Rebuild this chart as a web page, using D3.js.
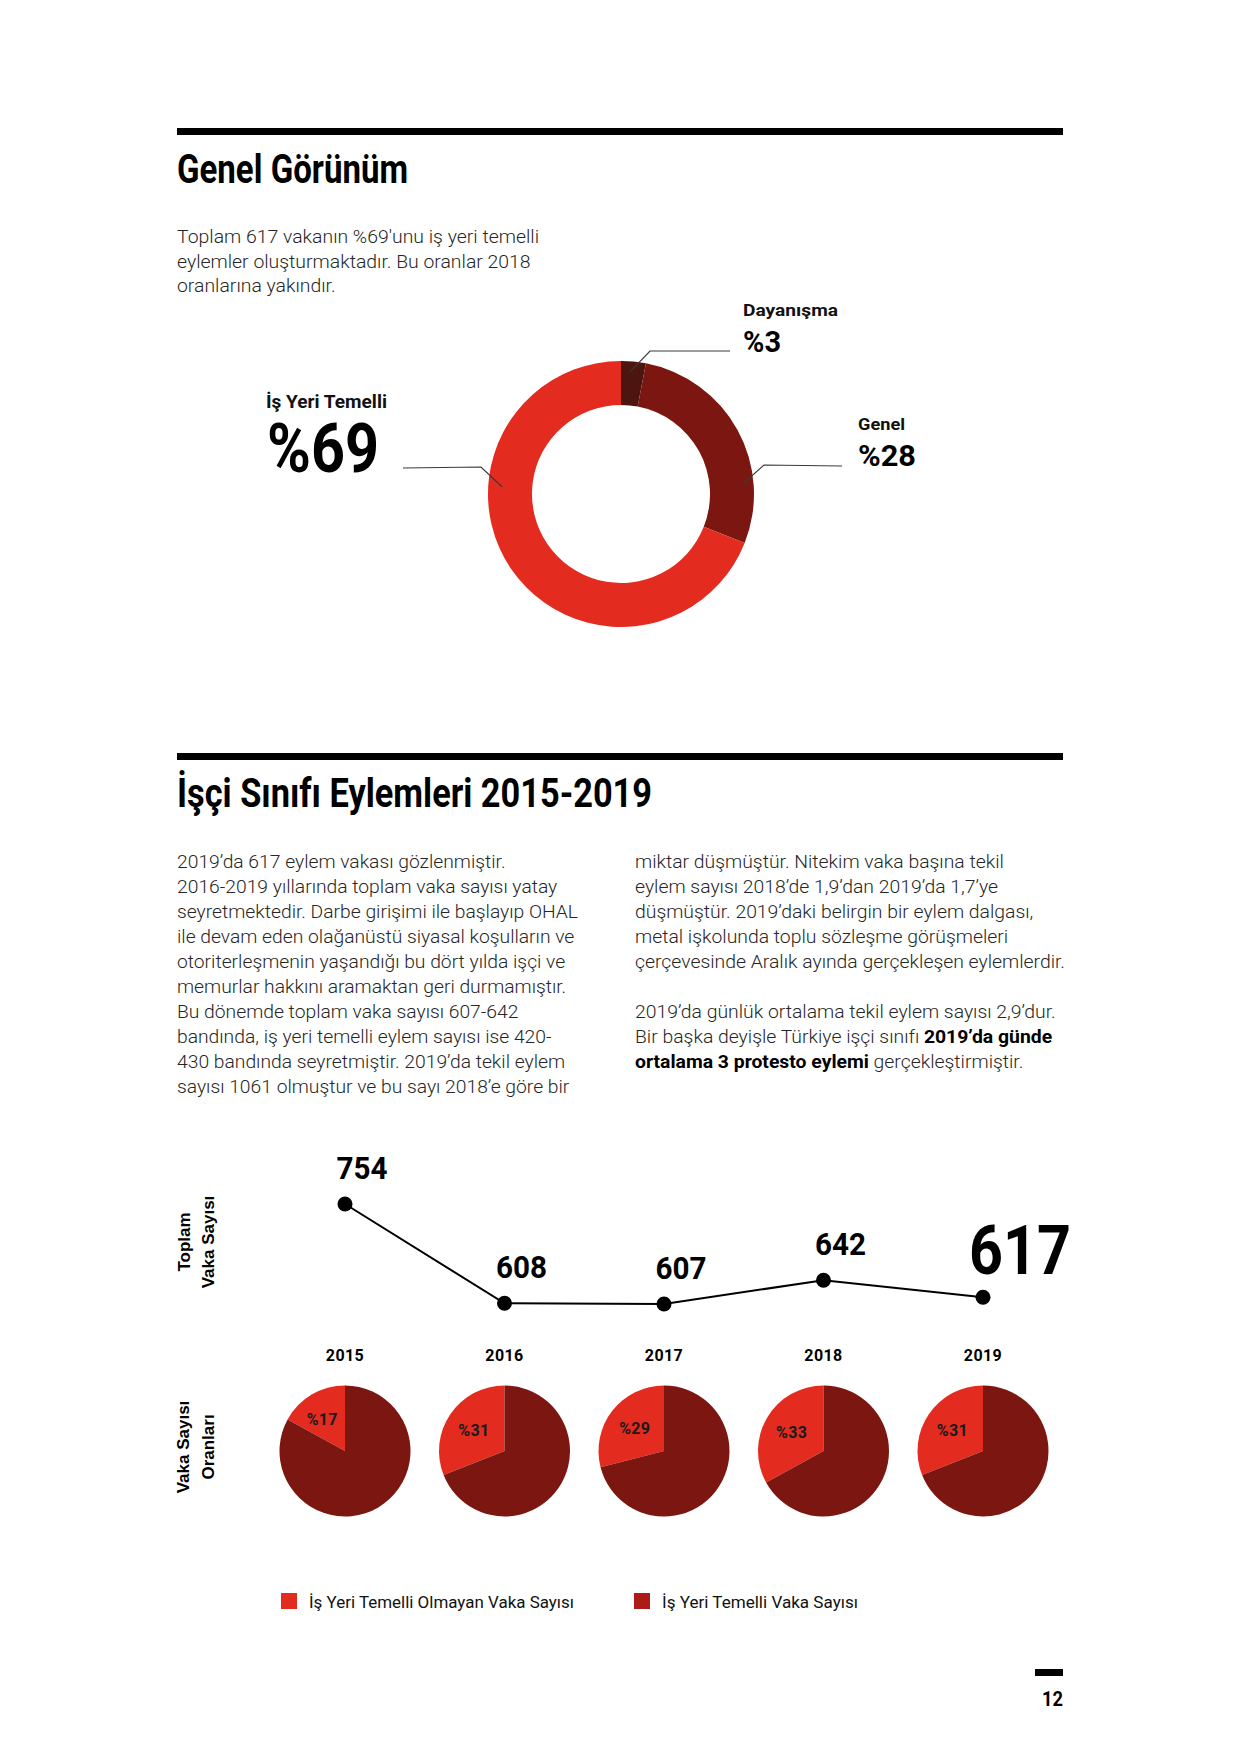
<!DOCTYPE html>
<html><head><meta charset="utf-8">
<script src="https://cdn.jsdelivr.net/npm/d3@7"></script>
<style>
body{margin:0;background:#fff}
svg{display:block}
text{font-family:Roboto,"Noto Sans",sans-serif}
</style>
</head><body>
<svg id="c" width="1240" height="1754"></svg>
<script>
// ---------- DATA ----------
const shareCategories = ["Dayanışma", "Genel", "İş Yeri Temelli"];
const shareValues = [3, 28, 69];
const years = ["2015", "2016", "2017", "2018", "2019"];
const totalCases = [754, 608, 607, 642, 617];
const nonWorkplacePct = [17, 31, 29, 33, 31];
const legendLabels = ["İş Yeri Temelli Olmayan Vaka Sayısı", "İş Yeri Temelli Vaka Sayısı"];

const introLines = [
  "Toplam 617 vakanın %69'unu iş yeri temelli",
  "eylemler oluşturmaktadır. Bu oranlar 2018",
  "oranlarına yakındır."
];
const leftCol = [
  "2019’da 617 eylem vakası gözlenmiştir.",
  "2016-2019 yıllarında toplam vaka sayısı yatay",
  "seyretmektedir. Darbe girişimi ile başlayıp OHAL",
  "ile devam eden olağanüstü siyasal koşulların ve",
  "otoriterleşmenin yaşandığı bu dört yılda işçi ve",
  "memurlar hakkını aramaktan geri durmamıştır.",
  "Bu dönemde toplam vaka sayısı 607-642",
  "bandında, iş yeri temelli eylem sayısı ise 420-",
  "430 bandında seyretmiştir. 2019’da tekil eylem",
  "sayısı 1061 olmuştur ve bu sayı 2018’e göre bir"
];
const rightCol = [
  [["miktar düşmüştür. Nitekim vaka başına tekil", 0]],
  [["eylem sayısı 2018’de 1,9’dan 2019’da 1,7’ye", 0]],
  [["düşmüştür. 2019’daki belirgin bir eylem dalgası,", 0]],
  [["metal işkolunda toplu sözleşme görüşmeleri", 0]],
  [["çerçevesinde Aralık ayında gerçekleşen eylemlerdir.", 0]],
  [],
  [["2019’da günlük ortalama tekil eylem sayısı 2,9’dur.", 0]],
  [["Bir başka deyişle Türkiye işçi sınıfı ", 0], ["2019’da günde", 1]],
  [["ortalama 3 protesto eylemi", 1], [" gerçekleştirmiştir.", 0]]
];

// ---------- COLORS ----------
const RED = "#E32B20", DARK = "#7B1710", DARKEST = "#4D1510", LEG2 = "#AE1A19";

const svg = d3.select("#c");
svg.append("rect").attr("width", 1240).attr("height", 1754).attr("fill", "#fff");

function fit(sel, w) { sel.attr("textLength", w).attr("lengthAdjust", "spacingAndGlyphs"); return sel; }

// ---------- SECTION 1 ----------
svg.append("rect").attr("x", 177).attr("y", 128).attr("width", 886).attr("height", 7).attr("fill", "#000");
fit(svg.append("text").attr("x", 177).attr("y", 183).attr("font-size", 40).attr("font-weight", 700)
  .attr("fill", "#000").text("Genel Görünüm"), 231);

function bodyBlock(lines, x, y0, lh, refIdx, refW) {
  const g = svg.append("g");
  const ts = lines.map((segs, i) => {
    const t = g.append("text").attr("x", x).attr("y", y0 + i * lh).attr("font-size", 17.5)
      .attr("font-weight", 300).attr("fill", "#262626");
    const arr = typeof segs === "string" ? [[segs, 0]] : segs;
    arr.forEach(s => t.append("tspan").attr("font-weight", s[1] ? 700 : 300).attr("fill", s[1] ? "#000" : null).text(s[0]));
    return t;
  });
  const k = refW / ts[refIdx].node().getComputedTextLength();
  ts.forEach(t => { const n = t.node(); if (n.textContent.length) { const w = n.getComputedTextLength(); fit(t, w * k); } });
}
bodyBlock(introLines, 177, 243, 24.6, 0, 362);

// donut
const cx = 621, cy = 494, R = 133, r0 = 89;
const pie = d3.pie().sort(null).value(d => d);
const arc = d3.arc().innerRadius(r0).outerRadius(R);
const donutColors = [DARKEST, DARK, RED];
svg.append("g").attr("transform", `translate(${cx},${cy})`)
  .selectAll("path").data(pie(shareValues)).join("path")
  .attr("d", arc).attr("fill", (d, i) => donutColors[i]);

// leader lines & labels (layout annotations)
const leaders = [
  { ang: 4, rad: 122, elbow: [650, 351], end: [730, 351], lx: 743, ly: 316, lw: 95, vy: 352, vw: 38, big: 30, small: 17 },
  { ang: 85, rad: 123, elbow: [764, 465], end: [842, 466], lx: 858, ly: 430, lw: 47, vy: 466, vw: 58, big: 30, small: 17 },
  { ang: 273.4, rad: 119, elbow: [481, 467], end: [403, 468], lx: 266, ly: 408, lw: 121, vy: 472, vw: 112, big: 68, small: 18 }
];
leaders.forEach((L, i) => {
  const a = L.ang * Math.PI / 180;
  const sx = cx + L.rad * Math.sin(a), sy = cy - L.rad * Math.cos(a);
  svg.append("path").attr("d", d3.line()([[sx, sy], L.elbow, L.end]))
    .attr("fill", "none").attr("stroke", "#3a3a3a").attr("stroke-width", 1.2);
  fit(svg.append("text").attr("x", L.lx).attr("y", L.ly).attr("font-size", L.small).attr("font-weight", 700)
    .attr("fill", "#111").text(shareCategories[i]), L.lw);
  fit(svg.append("text").attr("x", L.lx + (i === 2 ? 1 : 0)).attr("y", L.vy).attr("font-size", L.big).attr("font-weight", 700)
    .attr("fill", "#000").text("%" + shareValues[i]), L.vw);
});

// ---------- SECTION 2 ----------
svg.append("rect").attr("x", 177).attr("y", 753).attr("width", 886).attr("height", 7).attr("fill", "#000");
fit(svg.append("text").attr("x", 177).attr("y", 807).attr("font-size", 40).attr("font-weight", 700)
  .attr("fill", "#000").text("İşçi Sınıfı Eylemleri 2015-2019"), 475);

bodyBlock(leftCol, 177, 868, 25, 2, 401);
bodyBlock(rightCol, 635, 868, 25, 4, 430);

// line chart
const x = d3.scalePoint().domain(years).range([345, 983]);
const y = d3.scaleLinear().domain([607, 754]).range([1304, 1204]);
const pts = years.map((yr, i) => ({ yr, v: totalCases[i] }));
svg.append("path").datum(pts)
  .attr("d", d3.line().x(d => x(d.yr)).y(d => y(d.v)))
  .attr("fill", "none").attr("stroke", "#000").attr("stroke-width", 2);
svg.append("g").selectAll("circle").data(pts).join("circle")
  .attr("cx", d => x(d.yr)).attr("cy", d => y(d.v)).attr("r", 7.5).attr("fill", "#000");
svg.append("g").selectAll("text").data(pts).join("text")
  .each(function (d, i) {
    const last = i === pts.length - 1;
    const t = d3.select(this)
      .attr("x", x(d.yr) + (last ? 37 : 17)).attr("y", y(d.v) - (last ? 23 : 25))
      .attr("text-anchor", "middle").attr("font-weight", 700).attr("fill", "#000")
      .attr("font-size", last ? 69 : 31).text(d.v);
    fit(t, last ? 102 : 51);
  });

// year labels
svg.append("g").selectAll("text").data(years).join("text")
  .attr("x", d => x(d)).attr("y", 1361).attr("text-anchor", "middle")
  .attr("font-size", 16).attr("font-weight", 700).attr("fill", "#000").attr("letter-spacing", 0.4).text(d => d);

// small pies
const pr = 65.5, pcy = 1451;
const pieArc = d3.arc().innerRadius(0).outerRadius(pr);
const labArc = d3.arc().innerRadius(8).outerRadius(66);
years.forEach((yr, i) => {
  const p = nonWorkplacePct[i];
  const a0 = -2 * Math.PI * p / 100;
  const sp = d3.pie().sort(null).startAngle(a0).endAngle(a0 + 2 * Math.PI)([p, 100 - p]);
  const g = svg.append("g").attr("transform", `translate(${x(yr)},${pcy})`);
  g.selectAll("path").data(sp).join("path").attr("d", pieArc).attr("fill", (d, j) => j === 0 ? RED : DARK);
  const c = labArc.centroid(sp[0]);
  g.append("text").attr("x", c[0] - (p < 20 ? 4 : 0)).attr("y", c[1]).attr("dy", "0.36em").attr("text-anchor", "middle")
    .attr("font-size", 16).attr("font-weight", 700).attr("fill", "#1a1a1a").attr("letter-spacing", 0.3)
    .text("%" + p);
});

// rotated side labels
function rot(txt, tx, ty) {
  svg.append("text").attr("transform", `translate(${tx},${ty}) rotate(-90)`).attr("text-anchor", "middle")
    .style("font-family", "'Liberation Sans', Arial, sans-serif").attr("font-size", 17).attr("font-weight", 700)
    .attr("fill", "#000").text(txt);
}
rot("Toplam", 190, 1242); rot("Vaka Sayısı", 214, 1242);
rot("Vaka Sayısı", 189, 1447); rot("Oranları", 214, 1447);

// legend
const legX = [281, 634], legC = [RED, LEG2], legW = [265, 196];
legendLabels.forEach((l, i) => {
  svg.append("rect").attr("x", legX[i]).attr("y", 1593).attr("width", 16).attr("height", 16).attr("fill", legC[i]);
  fit(svg.append("text").attr("x", legX[i] + 28).attr("y", 1608).attr("font-size", 17).attr("fill", "#111").text(l), legW[i]);
});

// page number
svg.append("rect").attr("x", 1035).attr("y", 1669).attr("width", 28).attr("height", 7).attr("fill", "#000");
fit(svg.append("text").attr("x", 1063).attr("y", 1706).attr("text-anchor", "end").attr("font-size", 20)
  .attr("font-weight", 700).attr("fill", "#000").text("12"), 21);
</script>
</body></html>
